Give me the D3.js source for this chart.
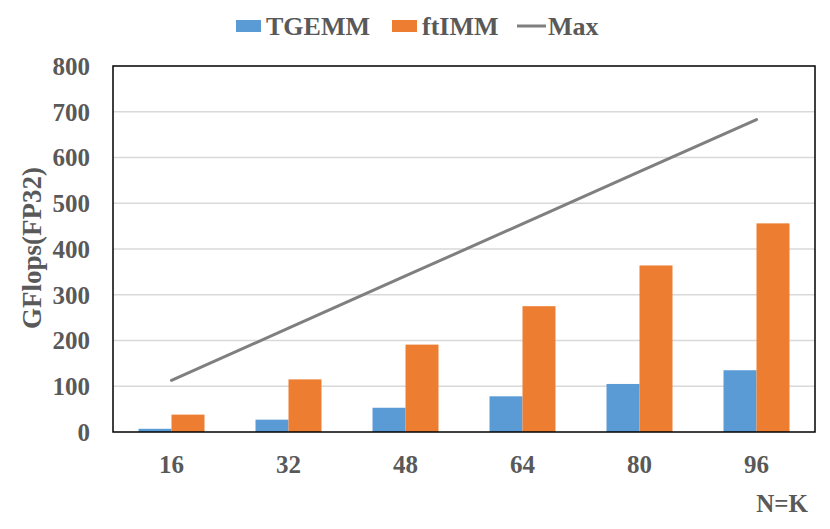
<!DOCTYPE html>
<html>
<head>
<meta charset="utf-8">
<script src="https://cdn.jsdelivr.net/npm/d3@7"></script>
<style>
  body { margin: 0; background: #fff; }
  text { font-family: "Liberation Serif", "Times New Roman", serif; font-weight: bold; fill: #595959; }
</style>
</head>
<body>
<div id="chart"></div>
<script>
const categories = ["16", "32", "48", "64", "80", "96"];
const tgemm = [7, 27, 53, 78, 105, 135];
const ftimm = [38, 115, 191, 275, 364, 456];
const maxPerf = [113, 227, 341, 455, 569, 683];
const yTicks = [0, 100, 200, 300, 400, 500, 600, 700, 800];

const W = 830, H = 529;
const margin = {top: 66, right: 15, bottom: 97, left: 113};
const width = W - margin.left - margin.right;
const height = H - margin.top - margin.bottom;

const svg = d3.select("#chart")
    .append("svg")
    .attr("width", W)
    .attr("height", H);

const g = svg.append("g")
    .attr("transform", `translate(${margin.left},${margin.top})`);

const xScale = d3.scaleBand().domain(categories).range([0, width]).paddingInner(0.436).paddingOuter(0.218);
const subScale = d3.scaleBand().domain(["TGEMM", "ftIMM"]).range([0, xScale.bandwidth()]);
const yScale = d3.scaleLinear().domain([0, 800]).range([height, 0]);

// gridlines
g.selectAll(".grid")
    .data(yTicks.filter(d => d > 0 && d < 800))
    .enter().append("line")
    .attr("class", "grid")
    .attr("x1", 0)
    .attr("x2", width)
    .attr("y1", d => yScale(d))
    .attr("y2", d => yScale(d))
    .attr("stroke", "#d9d9d9")
    .attr("stroke-width", 1.3);

// bars
const series = [
    {name: "TGEMM", values: tgemm, color: "#5b9bd5"},
    {name: "ftIMM", values: ftimm, color: "#ed7d31"}
];
series.forEach(s => {
    g.selectAll(`.bar-${s.name}`)
        .data(s.values)
        .enter().append("rect")
        .attr("class", `bar-${s.name}`)
        .attr("x", (d, i) => xScale(categories[i]) + subScale(s.name))
        .attr("y", d => yScale(d))
        .attr("width", subScale.bandwidth())
        .attr("height", d => height - yScale(d))
        .attr("fill", s.color);
});

// max line
g.append("path")
    .datum(maxPerf)
    .attr("fill", "none")
    .attr("stroke", "#7f7f7f")
    .attr("stroke-width", 3)
    .attr("stroke-linecap", "round")
    .attr("d", d3.line()
        .x((d, i) => xScale(categories[i]) + xScale.bandwidth() / 2)
        .y(d => yScale(d)));

// plot border
g.append("rect")
    .attr("x", 0)
    .attr("y", 0)
    .attr("width", width)
    .attr("height", height)
    .attr("fill", "none")
    .attr("stroke", "#000")
    .attr("stroke-width", 1.5);

// y tick labels
g.selectAll(".ylabel")
    .data(yTicks)
    .enter().append("text")
    .attr("class", "ylabel")
    .attr("x", -23)
    .attr("y", d => yScale(d))
    .attr("dy", "0.35em")
    .attr("text-anchor", "end")
    .attr("font-size", "25px")
    .text(d => d);

// x tick labels
g.selectAll(".xlabel")
    .data(categories)
    .enter().append("text")
    .attr("class", "xlabel")
    .attr("x", d => xScale(d) + xScale.bandwidth() / 2)
    .attr("y", height + 32)
    .attr("dy", "0.35em")
    .attr("text-anchor", "middle")
    .attr("font-size", "25px")
    .text(d => d);

// axis titles
svg.append("text")
    .attr("transform", "translate(41,248) rotate(-90)")
    .attr("text-anchor", "middle")
    .attr("font-size", "27px")
    .text("GFlops(FP32)");

svg.append("text")
    .attr("x", 808)
    .attr("y", 503)
    .attr("dy", "0.35em")
    .attr("text-anchor", "end")
    .attr("font-size", "25px")
    .text("N=K");

// legend
const legend = svg.append("g").attr("transform", "translate(0,26)");
const legendItems = [
    {name: "TGEMM", color: "#5b9bd5", type: "rect", x: 236},
    {name: "ftIMM", color: "#ed7d31", type: "rect", x: 392},
    {name: "Max", color: "#7f7f7f", type: "line", x: 517}
];
legendItems.forEach(item => {
    if (item.type === "rect") {
        legend.append("rect")
            .attr("x", item.x)
            .attr("y", -6)
            .attr("width", 25)
            .attr("height", 12)
            .attr("fill", item.color);
    } else {
        legend.append("line")
            .attr("x1", item.x)
            .attr("x2", item.x + 29)
            .attr("y1", 0)
            .attr("y2", 0)
            .attr("stroke", item.color)
            .attr("stroke-width", 3);
    }
    legend.append("text")
        .attr("x", item.x + (item.type === "rect" ? 30 : 31))
        .attr("y", 0)
        .attr("dy", "0.35em")
        .attr("font-size", "26px")
        .text(item.name);
});
</script>
</body>
</html>
